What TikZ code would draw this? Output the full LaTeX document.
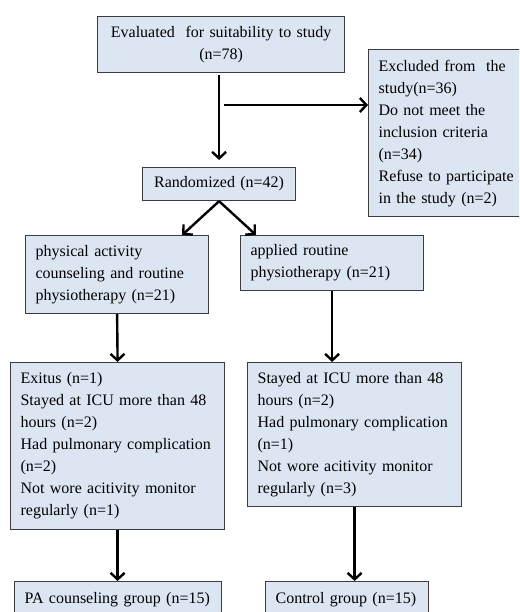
\documentclass[tikz,border=0pt]{standalone}
\usepackage{fontspec}
\setmainfont{Liberation Serif}
\usepackage{tikz}
\usetikzlibrary{arrows.meta, positioning}
\definecolor{boxblue}{HTML}{DCE6F2}
\definecolor{boxline}{HTML}{3C3C3C}
\tikzstyle{flowbox} = [draw=boxline, fill=boxblue, line width=1.2pt, rectangle, anchor=north west,
	inner xsep=10pt, inner ysep=0pt, align=left, execute at begin node={\hyphenpenalty=10000\relax}]
\tikzstyle{arrowline} = [draw, line width=2.4pt, -{Straight Barb[length=6.5pt,width=14pt,line width=2.4pt]}]

\begin{document}
\begin{tikzpicture}[x=1pt, y=-1pt, font=\fontsize{16}{22}\selectfont]
	\clip (0,0) rectangle (519,612);
	% boxes
	\node[flowbox, align=center, minimum width=247pt, minimum height=56pt, text width=227pt] (eval) at (97,16)
		{Evaluated~ for suitability to study\\(n=78)};
	\node[flowbox, minimum width=170pt, minimum height=167pt, text width=150pt] (excl) at (368,49)
		{Excluded from~ the\\study(n=36)\\Do not meet the\\inclusion criteria\\(n=34)\\Refuse to participate\\in the study (n=2)};
	\node[flowbox, align=center, minimum width=153pt, minimum height=33pt, inner xsep=4pt, text width=145pt] (rand) at (142,167)
		{Randomized (n=42)};
	\node[flowbox, minimum width=183pt, minimum height=78pt, text width=163pt] (pa1) at (25,235)
		{physical activity\\counseling and routine\\physiotherapy (n=21)};
	\node[flowbox, minimum width=183pt, minimum height=55pt, text width=163pt] (ct1) at (240,235)
		{applied routine\\physiotherapy (n=21)};
	\node[flowbox, minimum width=214pt, minimum height=167pt, text width=194pt] (pa2) at (10,362)
		{Exitus (n=1)\\Stayed at ICU more than 48\\hours (n=2)\\Had pulmonary complication\\(n=2)\\Not wore acitivity monitor\\regularly (n=1)};
	\node[flowbox, minimum width=214pt, minimum height=144pt, text width=194pt] (ct2) at (247,362)
		{Stayed at ICU more than 48\\hours (n=2)\\Had pulmonary complication\\(n=1)\\Not wore acitivity monitor\\regularly (n=3)};
	\node[flowbox, minimum width=207pt, minimum height=36pt, text width=187pt] (pa3) at (14,581)
		{PA counseling group (n=15)};
	\node[flowbox, minimum width=163pt, minimum height=36pt, text width=143pt] (ct3) at (265,581)
		{Control group (n=15)};
	% arrows
	\coordinate (split) at (224,105);
	\draw[arrowline, shorten <=2pt, shorten >=7pt] (eval.south -| rand.north) -- (rand.north);
	\draw[arrowline] (split) -- (split -| excl.west);
	\draw[arrowline] (rand.south) -- ([xshift=-27pt]pa1.north east);
	\draw[arrowline] (rand.south) -- ([xshift=16pt]ct1.north west);
	\draw[arrowline] (pa1.south) -- (pa2.north);
	\draw[arrowline] (ct1.south) -- (ct1.south |- ct2.north);
	\draw[arrowline] (pa2.south) -- (pa2.south |- pa3.north);
	\draw[arrowline] (ct2.south) -- (ct2.south |- ct3.north);
\end{tikzpicture}
\end{document}
